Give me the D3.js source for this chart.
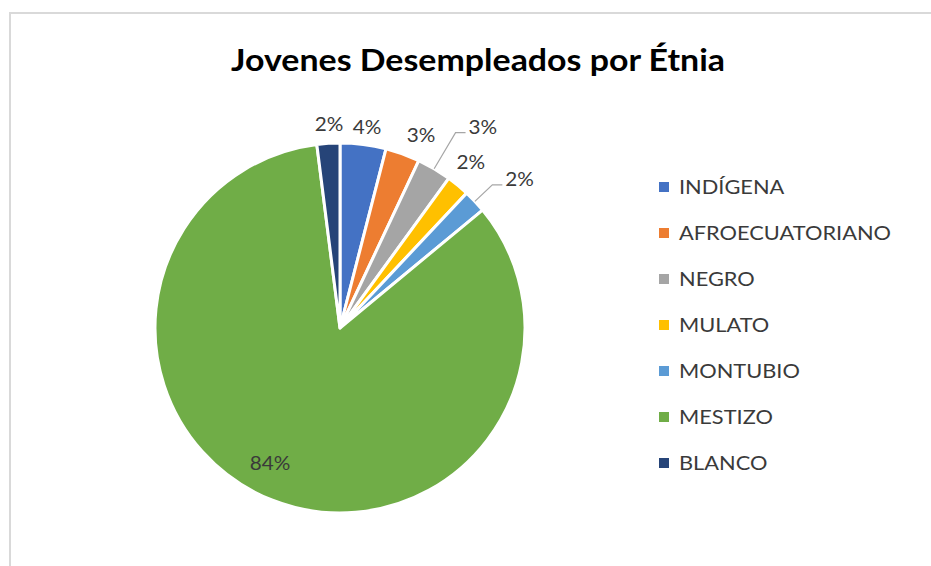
<!DOCTYPE html>
<html>
<meta charset="utf-8">
<head>
	<title>Jovenes Desempleados por Étnia</title>
	<script src="https://cdn.jsdelivr.net/npm/d3@7/dist/d3.min.js" charset="utf-8"></script>
	<style>
		body { margin: 0; background: #fff; }
		text { font-family: Lato, "Open Sans", sans-serif; }
	</style>
</head>
<body>
	<script type="text/javascript">
		// data
		var categories = ['INDÍGENA', 'AFROECUATORIANO', 'NEGRO', 'MULATO', 'MONTUBIO', 'MESTIZO', 'BLANCO'];
		var values = [4, 3, 3, 2, 2, 84, 2];
		var colors = ['#4472c4', '#ed7d31', '#a5a5a5', '#ffc000', '#5b9bd5', '#70ad47', '#264478'];
		var title = 'Jovenes Desempleados por Étnia';

		// label placement (radius, angle nudge in degrees, leader line)
		var labelLayout = [
			{r: 202, da: 0.5},
			{r: 209, da: 3},
			{r: 227, da: 0, leader: true},
			{r: 211, da: -1.3},
			{r: 209, da: -1, leader: true},
			{r: 152, da: 5.8},
			{r: 204, da: 0.5}
		];

		var width = 931, height = 566;
		var cx = 340, cy = 328, radius = 185;
		var stretch = 1.09; // source text is a bit wider than Lato

		var svg = d3.select('body').append('svg')
			.attr('width', width)
			.attr('height', height);

		// chart area border (cropped on right/bottom)
		svg.append('rect')
			.attr('x', 10).attr('y', 13)
			.attr('width', width + 20).attr('height', height + 20)
			.attr('fill', '#fff')
			.attr('stroke', '#d9d9d9')
			.attr('stroke-width', 2);

		svg.append('text')
			.attr('x', 478).attr('y', 71)
			.attr('text-anchor', 'middle')
			.attr('font-size', 30)
			.attr('font-weight', 'bold')
			.attr('fill', '#000')
			.attr('textLength', 494)
			.attr('lengthAdjust', 'spacingAndGlyphs')
			.text(title);

		function widen(sel) {
			sel.each(function() {
				var len = this.getComputedTextLength();
				d3.select(this)
					.attr('textLength', len * stretch)
					.attr('lengthAdjust', 'spacingAndGlyphs');
			});
		}

		var data = categories.map(function(c, i) { return {name: c, value: values[i], color: colors[i], lab: labelLayout[i]}; });

		var pie = d3.pie().sort(null).value(function(d) { return d.value; });
		var arc = d3.arc().innerRadius(0).outerRadius(radius);
		var arcs = pie(data);

		var g = svg.append('g').attr('transform', 'translate(' + cx + ',' + cy + ')');

		g.selectAll('path.slice')
			.data(arcs)
			.enter().append('path')
			.attr('class', 'slice')
			.attr('d', arc)
			.attr('fill', function(d) { return d.data.color; })
			.attr('stroke', '#fff')
			.attr('stroke-width', 3)
			.attr('stroke-linejoin', 'round');

		function polar(r, a) {
			return [r * Math.sin(a), -r * Math.cos(a)];
		}

		arcs.forEach(function(d) {
			var mid = (d.startAngle + d.endAngle) / 2;
			var lab = d.data.lab;
			var txt = d3.format('.0%')(d.data.value / d3.sum(values));
			var t;
			if (lab.leader) {
				var p0 = polar(radius, mid),
					p1 = polar(lab.r, mid),
					p2 = [p1[0] + 10, p1[1]];
				g.append('polyline')
					.attr('points', [p0, p1, p2].map(function(p) { return p.join(','); }).join(' '))
					.attr('fill', 'none')
					.attr('stroke', '#a6a6a6')
					.attr('stroke-width', 1.2);
				t = g.append('text')
					.attr('x', p2[0] + 3).attr('y', p2[1] + 1);
			} else {
				var p = polar(lab.r, mid + lab.da * Math.PI / 180);
				t = g.append('text')
					.attr('x', p[0]).attr('y', p[1])
					.attr('text-anchor', 'middle')
					.attr('dy', '0.35em');
			}
			t.attr('font-size', 19)
				.attr('fill', '#3a3a3a')
				.text(txt)
				.call(widen);
		});

		// legend
		var ly = d3.scalePoint().domain(categories).range([187, 463]);
		var legend = svg.append('g').selectAll('g')
			.data(data)
			.enter().append('g')
			.attr('transform', function(d) { return 'translate(659,' + ly(d.name) + ')'; });
		legend.append('rect')
			.attr('x', 0).attr('y', -5)
			.attr('width', 10).attr('height', 10)
			.attr('fill', function(d) { return d.color; });
		legend.append('text')
			.attr('x', 20).attr('dy', '0.36em')
			.attr('font-size', 20)
			.attr('fill', '#3a3a3a')
			.text(function(d) { return d.name; })
			.call(widen);
	</script>
</body>
</html>
